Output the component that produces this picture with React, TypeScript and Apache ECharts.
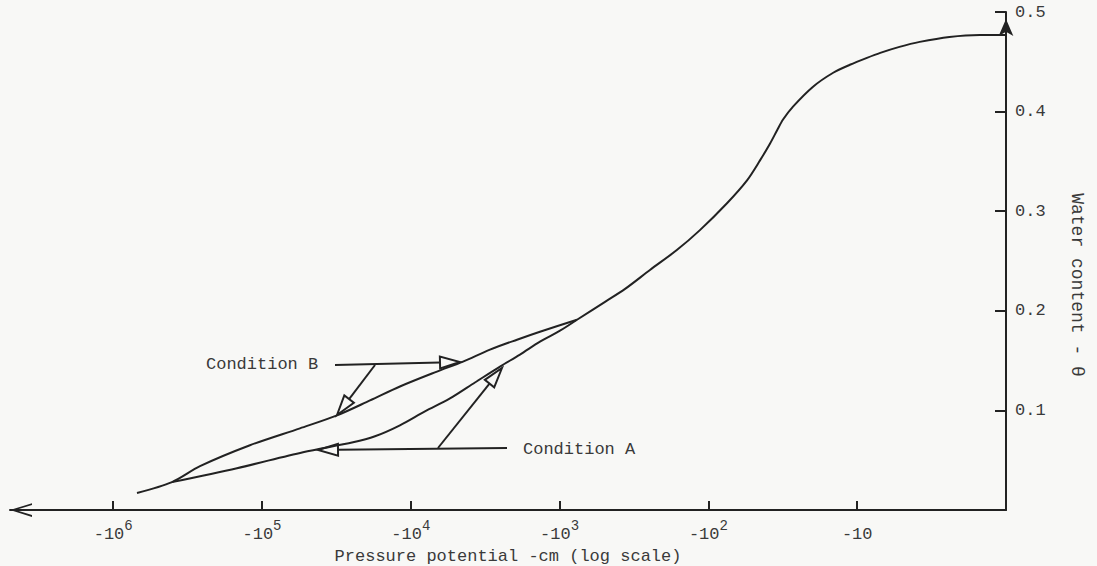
import React, { useEffect, useRef } from "react";
import * as echarts from "echarts";

// ---- tick values ----
const decadeTicks = [10, 100, 1000, 10000, 100000, 1000000];
const thetaTicks = [0, 0.1, 0.2, 0.3, 0.4, 0.5];

// ---- shared (upper) part of the retention curve: suction |h| in cm, water content ----
const mainSuction = [1, 1.5, 2.4, 3.8, 5.2, 7.0, 8.6, 11.2, 14.5, 19.8, 27, 31.5, 34.6, 38.5, 45, 55, 75, 114, 163, 247, 363, 495, 764];
const mainTheta = [0.477, 0.477, 0.475, 0.47, 0.465, 0.459, 0.454, 0.447, 0.439, 0.425, 0.405, 0.392, 0.381, 0.368, 0.351, 0.331, 0.308, 0.281, 0.261, 0.241, 0.222, 0.209, 0.191];

// ---- Condition B branch (upper) ----
const bSuction = [764, 1355, 1933, 2937, 4457, 6668, 11830, 18800, 31330, 55570, 120500, 261000, 402600, 692000];
const bTheta = [0.191, 0.179, 0.171, 0.161, 0.149, 0.139, 0.124, 0.11, 0.095, 0.082, 0.065, 0.044, 0.028, 0.017];

// ---- Condition A branch (lower) ----
const aSuction = [764, 994, 1355, 1846, 2516, 3706, 5454, 8032, 11830, 17400, 24450, 53000, 147300, 402600];
const aTheta = [0.191, 0.18, 0.169, 0.156, 0.144, 0.128, 0.112, 0.099, 0.085, 0.074, 0.068, 0.058, 0.042, 0.028];

const FONT = "Liberation Mono";
const INK = "#222";
const TXT = "#3a3a3a";
const BG = "#f8f8f6";

function pairs(xs: number[], ys: number[]) {
  return xs.map((x, i) => [x, ys[i]]);
}

function arrowHead(from: number[], tip: number[], len: number, hw: number) {
  const dx = tip[0] - from[0];
  const dy = tip[1] - from[1];
  const d = Math.sqrt(dx * dx + dy * dy);
  const ux = dx / d, uy = dy / d;
  const bx = tip[0] - ux * len, by = tip[1] - uy * len;
  const nx = -uy, ny = ux;
  return {
    base: [bx, by],
    points: [tip, [bx + nx * hw, by + ny * hw], [bx - nx * hw, by - ny * hw]],
  };
}

function arrow(from: number[], tip: number[]) {
  const h = arrowHead(from, tip, 20, 6);
  return [
    { type: "line", shape: { x1: from[0], y1: from[1], x2: h.base[0], y2: h.base[1] }, style: { stroke: INK, lineWidth: 2 }, z: 10 },
    { type: "polygon", shape: { points: h.points }, style: { stroke: INK, fill: "none", lineWidth: 2 }, z: 10 },
  ];
}

export default function App() {
  const ref = useRef<HTMLDivElement>(null);
  useEffect(() => {
    const chart = echarts.init(ref.current!, null, { renderer: "svg" });
    const gridLeft = 10, gridRight = 91, gridTop = 12, gridBottom = 56;
    const rightX = 1097 - gridRight;
    const decadePx = 148.8;
    const xMax = Math.pow(10, (rightX - gridLeft) / decadePx);

    const lineSeries = (name: string, data: number[][]) => ({
      name,
      type: "line",
      data,
      showSymbol: false,
      smooth: 0.3,
      lineStyle: { color: INK, width: 2 },
      z: 5,
    });

    const graphics: any[] = [
      { type: "text", x: 206, y: 364, style: { text: "Condition B", fontFamily: FONT, fontSize: 17, fill: TXT, align: "left", verticalAlign: "middle" } },
      ...arrow([335, 365], [460, 362]),
      ...arrow([375, 365], [337, 415]),
      { type: "text", x: 523, y: 449, style: { text: "Condition A", fontFamily: FONT, fontSize: 17, fill: TXT, align: "left", verticalAlign: "middle" } },
      ...arrow([507, 448], [318, 450]),
      ...arrow([438, 448], [502, 368]),
    ];

    chart.setOption({
      animation: false,
      backgroundColor: BG,
      grid: { left: gridLeft, right: gridRight, top: gridTop, bottom: gridBottom, containLabel: false, outerBoundsMode: "none" },
      xAxis: {
        type: "log",
        logBase: 10,
        inverse: true,
        min: 1,
        max: xMax,
        name: "Pressure potential -cm (log scale)",
        nameLocation: "middle",
        nameGap: 36,
        nameTextStyle: { fontFamily: FONT, fontSize: 17, color: TXT },
        axisLine: {
          show: true,
          lineStyle: { color: INK, width: 2 },
          symbol: ["path://M5,0 L10,16 L8.6,16 L5,4 L1.4,16 L0,16 Z", "none"],
          symbolSize: [14, 22],
          symbolOffset: [11, 0],
        },
        axisTick: { show: true, inside: true, length: 9, lineStyle: { color: INK, width: 2 }, customValues: decadeTicks },
        axisLabel: {
          customValues: decadeTicks,
          margin: 9,
          formatter: (v: number) => {
            const e = Math.round(Math.log10(v));
            return e === 1 ? "{a|-10}" : `{a|-10}{s|${e}}`;
          },
          rich: {
            a: { fontFamily: FONT, fontSize: 17, color: TXT, verticalAlign: "bottom", lineHeight: 24 },
            s: { fontFamily: FONT, fontSize: 14, color: TXT, verticalAlign: "top", lineHeight: 15 },
          },
        },
        splitLine: { show: false },
        minorTick: { show: false },
      },
      yAxis: {
        type: "value",
        position: "right",
        min: 0,
        max: 0.5,
        interval: 0.1,
        name: "Water content - θ",
        nameLocation: "middle",
        nameRotate: -90,
        nameGap: 62,
        nameTextStyle: { fontFamily: FONT, fontSize: 18, color: TXT, padding: [0, 0, 0, 48] },
        axisLine: {
          show: true,
          lineStyle: { color: INK, width: 2 },
          symbol: ["none", "arrow"],
          symbolSize: [11, 17],
          symbolOffset: [0, -7],
        },
        axisTick: { show: true, inside: true, length: 11, lineStyle: { color: INK, width: 2 }, customValues: thetaTicks.filter((t) => t > 0) },
        axisLabel: {
          margin: 9,
          fontFamily: FONT,
          fontSize: 17,
          color: TXT,
          formatter: (v: number) => (v === 0 ? "" : v.toFixed(1)),
        },
        splitLine: { show: false },
      },
      series: [
        lineSeries("Shared curve", pairs(mainSuction, mainTheta)),
        lineSeries("Condition B", pairs(bSuction, bTheta)),
        lineSeries("Condition A", pairs(aSuction, aTheta)),
      ],
      graphic: graphics,
    });
    return () => chart.dispose();
  }, []);
  return (
    <div
      ref={ref}
      style={{ position: "absolute", left: 0, top: 0, width: 1097, height: 566, background: BG }}
    />
  );
}
